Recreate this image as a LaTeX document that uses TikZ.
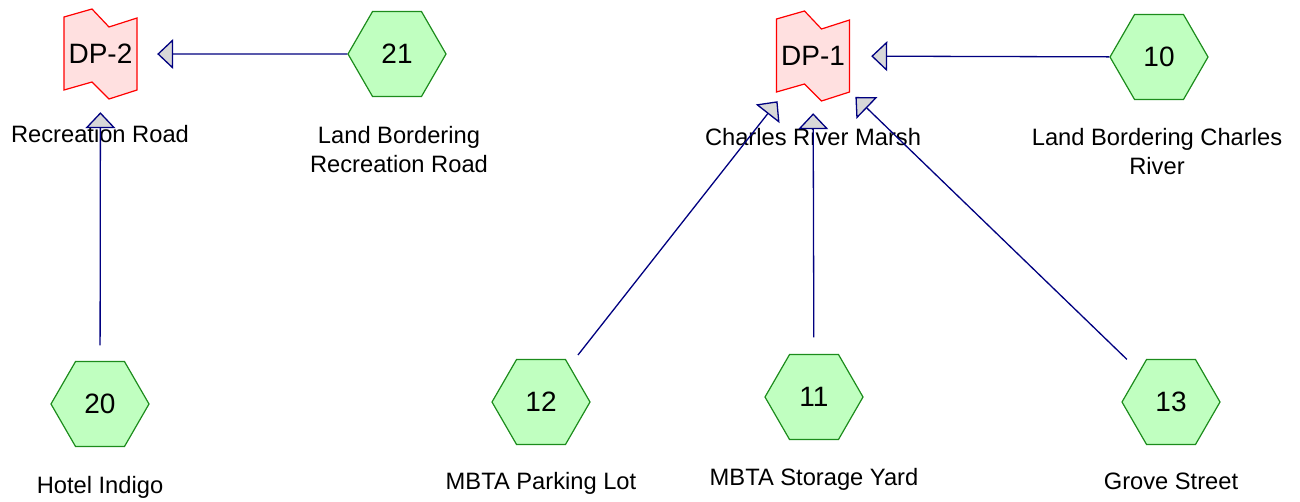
\documentclass[tikz,border=0pt]{standalone}
\usepackage{fontspec}
\setmainfont{Liberation Sans}
\usetikzlibrary{arrows.meta,shapes.geometric,calc}
\definecolor{hexfill}{HTML}{C0FFC0}
\definecolor{hexdraw}{HTML}{1C8C1C}
\definecolor{dpfill}{HTML}{FFE0E0}
\definecolor{dpdraw}{HTML}{FF0000}
\definecolor{navy}{HTML}{000080}
\definecolor{tipfill}{HTML}{D8D8D8}
\tikzset{
  hexnode/.style={regular polygon, regular polygon sides=6, minimum size=98pt, inner sep=0pt,
    draw=hexdraw, fill=hexfill, line width=1.2pt, font=\fontsize{28}{30}\selectfont},
  dpbox/.style={rectangle, minimum width=72pt, minimum height=90pt, inner sep=0pt,
    font=\fontsize{28}{30}\selectfont},
  flagline/.style={draw=dpdraw, fill=dpfill, line width=1.2pt, line join=miter},
  lbl/.style={anchor=base, align=center, inner sep=0pt, font=\fontsize{23.7}{29.5}\selectfont},
  conn/.style={draw=navy, line width=1.3pt,
    -{Triangle[length=16pt, width=30pt, fill=tipfill, line join=miter]}}
}
\newcommand{\flagshape}[1]{%
  \path[flagline] ($(#1)+(-36.5,-37)$) -- ($(#1)+(-8.5,-45)$) -- ($(#1)+(8.5,-27)$) -- ($(#1)+(36.5,-36)$)
    -- ($(#1)+(36.5,36)$) -- ($(#1)+(8.5,45)$) -- ($(#1)+(-8.5,28)$) -- ($(#1)+(-36.5,36)$) -- cycle;}
\begin{document}
\begin{tikzpicture}[x=1pt,y=-1pt]
\useasboundingbox (0,0) rectangle (1300,501);
% decision points
\coordinate (c2) at (100.5,54);
\coordinate (c1) at (813,56);
\flagshape{c2}
\flagshape{c1}
\node[dpbox] (dp2) at (c2) {DP-2};
\node[dpbox] (dp1) at (c1) {DP-1};
% hexagons
\node[hexnode] (h21) at (397,54) {21};
\node[hexnode] (h10) at (1159,57) {10};
\node[hexnode] (h20) at (100,404) {20};
\node[hexnode] (h12) at (541,402) {12};
\node[hexnode] (h11) at (814,397) {11};
\node[hexnode] (h13) at (1171,402) {13};
% labels
\node[lbl] (l2) at (100,142.5) {Recreation Road};
\node[lbl] (l21) at (399,172.5) {Land Bordering\\Recreation Road};
\node[lbl] (l1) at (813,145.5) {Charles River Marsh};
\node[lbl] (l10) at (1157,174.5) {Land Bordering Charles\\River};
\node[lbl] (l20) at (100,493.5) {Hotel Indigo};
\node[lbl] (l12) at (541,489.5) {MBTA Parking Lot};
\node[lbl] (l11) at (814,485.5) {MBTA Storage Yard};
\node[lbl] (l13) at (1171,489.5) {Grove Street};
% connectors
\draw[conn, shorten >=20.5pt] (h21) -- (dp2);
\draw[conn, shorten <=15.6pt, shorten >=13pt] (h20) -- (dp2);
\draw[conn, shorten >=22pt] (h10) -- (dp1);
\draw[conn, shorten <=13.5pt, shorten >=0pt] (h12) -- (dp1);
\draw[conn, shorten <=16.6pt, shorten >=12pt] (h11) -- (dp1);
\draw[conn, shorten <=17pt, shorten >=8.6pt] (h13) -- (dp1);
\end{tikzpicture}
\end{document}
